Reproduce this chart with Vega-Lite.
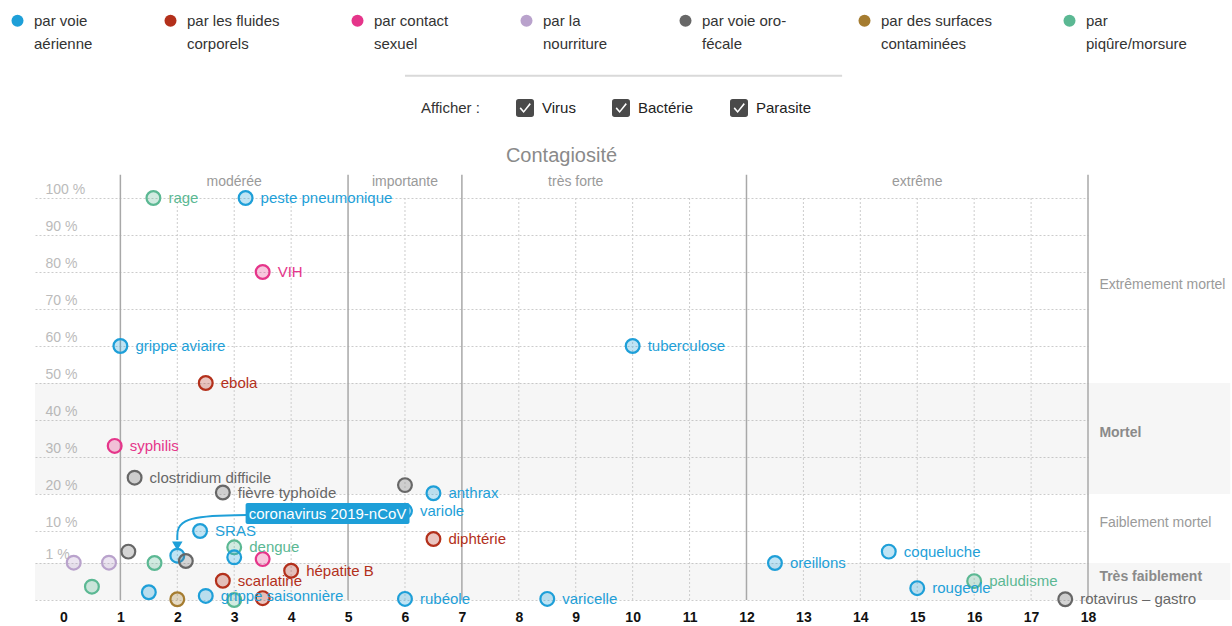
{
  "$schema": "https://vega.github.io/schema/vega-lite/v6.json",
  "width": 1053,
  "height": 432,
  "autosize": {"type": "none"},
  "padding": {"left": 35, "top": 168, "right": 144, "bottom": 26},
  "background": "white",
  "title": {"text": "Contagiosité", "anchor": "middle", "fontSize": 20, "fontWeight": "normal", "color": "#8a8a8a", "offset": 3, "dy": 156, "font": "Liberation Sans"},
  "config": {
    "font": "Liberation Sans",
    "view": {"stroke": null},
    "style": {"guide-label": {"lineHeight": 23}},
    "axis": {"domain": false, "ticks": false, "title": null},
    "axisY": {"labelOverlap": false, "labelFlush": false, "labelBound": false, "labelAlign": "left", "labelPadding": -10, "tickSize": 0, "tickCount": 30, "labelOffset": -9, "labelColor": "#bbbbbb", "labelFontSize": 14, "grid": true, "gridDash": [2, 2], "gridColor": "#cccccc"},
    "axisX": {"labelOverlap": false, "labelFlush": false, "grid": false, "tickCount": 30, "labelFontWeight": "bold", "labelFontSize": 14, "labelColor": "#111111", "labelPadding": 10, "format": "d"}
  },
  "datasets": {
    "maladies": [
      {"etiquette": "rage", "contagiosite": 1.58, "mortalite": 100, "transmission": "par piqûre/morsure", "type": "Virus"},
      {"etiquette": "peste pneumonique", "contagiosite": 3.2, "mortalite": 100, "transmission": "par voie aérienne", "type": "Bactérie"},
      {"etiquette": "VIH", "contagiosite": 3.5, "mortalite": 80, "transmission": "par contact sexuel", "type": "Virus"},
      {"etiquette": "grippe aviaire", "contagiosite": 1.0, "mortalite": 60, "transmission": "par voie aérienne", "type": "Virus"},
      {"etiquette": "tuberculose", "contagiosite": 10.0, "mortalite": 60, "transmission": "par voie aérienne", "type": "Bactérie"},
      {"etiquette": "ebola", "contagiosite": 2.5, "mortalite": 50, "transmission": "par les fluides corporels", "type": "Virus"},
      {"etiquette": "syphilis", "contagiosite": 0.9, "mortalite": 33, "transmission": "par contact sexuel", "type": "Bactérie"},
      {"etiquette": "clostridium difficile", "contagiosite": 1.25, "mortalite": 24.4, "transmission": "par voie oro-fécale", "type": "Bactérie"},
      {"etiquette": "fièvre typhoïde", "contagiosite": 2.8, "mortalite": 20.4, "transmission": "par voie oro-fécale", "type": "Bactérie"},
      {"etiquette": "", "contagiosite": 6.0, "mortalite": 22.4, "transmission": "par voie oro-fécale", "type": "Bactérie"},
      {"etiquette": "anthrax", "contagiosite": 6.5, "mortalite": 20.2, "transmission": "par voie aérienne", "type": "Bactérie"},
      {"etiquette": "variole", "contagiosite": 6.0, "mortalite": 15.4, "transmission": "par voie aérienne", "type": "Virus"},
      {"etiquette": "diphtérie", "contagiosite": 6.5, "mortalite": 7.75, "transmission": "par les fluides corporels", "type": "Bactérie"},
      {"etiquette": "SRAS", "contagiosite": 2.4, "mortalite": 10, "transmission": "par voie aérienne", "type": "Virus"},
      {"etiquette": "dengue", "contagiosite": 3.0, "mortalite": 5.4, "transmission": "par piqûre/morsure", "type": "Virus"},
      {"etiquette": "", "contagiosite": 3.0, "mortalite": 2.6, "transmission": "par voie aérienne", "type": "Virus"},
      {"etiquette": "", "contagiosite": 3.5, "mortalite": 2.1, "transmission": "par contact sexuel", "type": "Virus"},
      {"etiquette": "", "contagiosite": 1.14, "mortalite": 4.2, "transmission": "par voie oro-fécale", "type": "Bactérie"},
      {"etiquette": "", "contagiosite": 0.18, "mortalite": 1.08, "transmission": "par la nourriture", "type": "Bactérie"},
      {"etiquette": "", "contagiosite": 0.8, "mortalite": 1.08, "transmission": "par la nourriture", "type": "Bactérie"},
      {"etiquette": "", "contagiosite": 1.6, "mortalite": 1.0, "transmission": "par piqûre/morsure", "type": "Virus"},
      {"etiquette": "", "contagiosite": 0.5, "mortalite": 0.36, "transmission": "par piqûre/morsure", "type": "Parasite"},
      {"etiquette": "", "contagiosite": 1.5, "mortalite": 0.21, "transmission": "par voie aérienne", "type": "Bactérie"},
      {"etiquette": "", "contagiosite": 2.0, "mortalite": 0.02, "transmission": "par des surfaces contaminées", "type": "Bactérie"},
      {"etiquette": "coronavirus 2019-nCoV", "contagiosite": 2.0, "mortalite": 3.05, "transmission": "par voie aérienne", "type": "Virus"},
      {"etiquette": "", "contagiosite": 2.15, "mortalite": 1.56, "transmission": "par voie oro-fécale", "type": "Virus"},
      {"etiquette": "grippe saisonnière", "contagiosite": 2.5, "mortalite": 0.11, "transmission": "par voie aérienne", "type": "Virus"},
      {"etiquette": "", "contagiosite": 3.0, "mortalite": 0, "transmission": "par piqûre/morsure", "type": "Virus"},
      {"etiquette": "", "contagiosite": 3.5, "mortalite": 0.05, "transmission": "par les fluides corporels", "type": "Virus"},
      {"etiquette": "scarlatine", "contagiosite": 2.8, "mortalite": 0.52, "transmission": "par les fluides corporels", "type": "Bactérie"},
      {"etiquette": "hépatite B", "contagiosite": 4.0, "mortalite": 0.79, "transmission": "par les fluides corporels", "type": "Virus"},
      {"etiquette": "rubéole", "contagiosite": 6.0, "mortalite": 0.03, "transmission": "par voie aérienne", "type": "Virus"},
      {"etiquette": "varicelle", "contagiosite": 8.5, "mortalite": 0.03, "transmission": "par voie aérienne", "type": "Virus"},
      {"etiquette": "oreillons", "contagiosite": 12.5, "mortalite": 1.0, "transmission": "par voie aérienne", "type": "Virus"},
      {"etiquette": "coqueluche", "contagiosite": 14.5, "mortalite": 4.2, "transmission": "par voie aérienne", "type": "Bactérie"},
      {"etiquette": "rougeole", "contagiosite": 15.0, "mortalite": 0.32, "transmission": "par voie aérienne", "type": "Virus"},
      {"etiquette": "paludisme", "contagiosite": 16.0, "mortalite": 0.51, "transmission": "par piqûre/morsure", "type": "Parasite"},
      {"etiquette": "rotavirus – gastro", "contagiosite": 17.6, "mortalite": 0.02, "transmission": "par voie oro-fécale", "type": "Virus"}
    ],
    "bandes": [
      {"zone": "Mortel", "bas": 20, "haut": 50},
      {"zone": "Très faiblement", "bas": 0, "haut": 1}
    ],
    "zones": [
      {"texte": "Extrêmement mortel", "niveau": 76.5, "gras": false},
      {"texte": "Mortel", "niveau": 36.5, "gras": true},
      {"texte": "Faiblement mortel", "niveau": 12.2, "gras": false},
      {"texte": "Très faiblement", "niveau": 0.62, "gras": true}
    ],
    "categories": [
      {"categorie": "modérée", "centre": 3},
      {"categorie": "importante", "centre": 6},
      {"categorie": "très forte", "centre": 9},
      {"categorie": "extrême", "centre": 15}
    ],
    "limites": [{"r": 1}, {"r": 5}, {"r": 7}, {"r": 12}, {"r": 18}],
    "grille": [{"r": 2}, {"r": 3}, {"r": 4}, {"r": 6}, {"r": 8}, {"r": 9}, {"r": 10}, {"r": 11}, {"r": 13}, {"r": 14}, {"r": 15}, {"r": 16}, {"r": 17}],
    "fleche": [
      {"ordre": 1, "cx": 3.22, "cy": 14.3},
      {"ordre": 2, "cx": 2.0, "cy": 14.05},
      {"ordre": 3, "cx": 2.0, "cy": 7.5}
    ]
  },
  "layer": [
    {
      "data": {"name": "bandes"},
      "mark": {"type": "rect", "fill": "#9a9a9a", "fillOpacity": 0.09},
      "encoding": {
        "x": {"datum": -0.5, "type": "quantitative", "scale": {"domain": [-0.5, 18], "nice": false, "zero": false},
          "axis": {"values": [0,1,2,3,4,5,6,7,8,9,10,11,12,13,14,15,16,17,18], "title": null}},
        "x2": {"datum": 20.5},
        "y": {"field": "bas", "type": "quantitative", "scale": {"domain": [0, 1, 10, 100, 108.1], "range": [432, 395, 363, 30, 0], "nice": false, "zero": false},
          "axis": {"values": [0,1,10,20,30,40,50,60,70,80,90,100], "tickCount": 30, "labelFontSize": 14, "labelColor": "#bbbbbb", "labelExpr": "datum.value == 0 ? '' : datum.value + ' %'", "title": null}},
        "y2": {"field": "haut"}
      }
    },
    {
      "data": {"name": "grille"},
      "mark": {"type": "rule", "stroke": "#cccccc", "strokeDash": [2, 2], "strokeWidth": 1},
      "encoding": {
        "x": {"field": "r", "type": "quantitative", "title": null},
        "y": {"datum": 100},
        "y2": {"datum": 0}
      }
    },
    {
      "data": {"name": "limites"},
      "mark": {"type": "rule", "stroke": "#a8a8a8", "strokeWidth": 1.5},
      "encoding": {
        "x": {"field": "r", "type": "quantitative", "title": null},
        "y": {"datum": 106.3},
        "y2": {"datum": 0}
      }
    },
    {
      "data": {"values": [{}]},
      "mark": {"type": "rule", "stroke": "#d9d9d9", "strokeWidth": 2},
      "encoding": {
        "x": {"datum": 6.0},
        "x2": {"datum": 13.68},
        "y": {"datum": 133}
      }
    },
    {
      "data": {"name": "categories"},
      "mark": {"type": "text", "fontSize": 14, "color": "#9a9a9a", "align": "center", "baseline": "middle"},
      "encoding": {
        "x": {"field": "centre", "type": "quantitative", "title": null},
        "y": {"datum": 104.4},
        "text": {"field": "categorie"}
      }
    },
    {
      "data": {"name": "zones"},
      "transform": [{"filter": "!datum.gras"}],
      "mark": {"type": "text", "fontSize": 14, "color": "#9a9a9a", "align": "left", "baseline": "middle"},
      "encoding": {
        "x": {"datum": 18.2},
        "y": {"field": "niveau", "type": "quantitative", "title": null},
        "text": {"field": "texte"}
      }
    },
    {
      "data": {"name": "zones"},
      "transform": [{"filter": "datum.gras"}],
      "mark": {"type": "text", "fontSize": 14, "fontWeight": "bold", "color": "#8a8a8a", "align": "left", "baseline": "middle"},
      "encoding": {
        "x": {"datum": 18.2},
        "y": {"field": "niveau", "type": "quantitative", "title": null},
        "text": {"field": "texte"}
      }
    },
    {
      "data": {"name": "maladies"},
      "mark": {"type": "point", "filled": true, "fillOpacity": 0.28, "strokeOpacity": 1, "strokeWidth": 2.2, "size": 190},
      "encoding": {
        "x": {"field": "contagiosite", "type": "quantitative", "title": null},
        "y": {"field": "mortalite", "type": "quantitative", "title": null},
        "fill": {"field": "transmission", "type": "nominal", "legend": null,
          "scale": {"domain": ["par piqûre/morsure", "par des surfaces contaminées", "par voie oro-fécale", "par la nourriture", "par contact sexuel", "par les fluides corporels", "par voie aérienne"],
                    "range": ["#5bb893", "#a57c30", "#676767", "#b9a2cc", "#e5358a", "#b3301b", "#1e9fd8"]}},
        "stroke": {"field": "transmission", "type": "nominal", "legend": null,
          "scale": {"domain": ["par piqûre/morsure", "par des surfaces contaminées", "par voie oro-fécale", "par la nourriture", "par contact sexuel", "par les fluides corporels", "par voie aérienne"],
                    "range": ["#5bb893", "#a57c30", "#676767", "#b9a2cc", "#e5358a", "#b3301b", "#1e9fd8"]}}
      }
    },
    {
      "data": {"name": "maladies"},
      "mark": {"type": "point", "filled": true, "opacity": 0},
      "encoding": {
        "x": {"field": "contagiosite", "type": "quantitative", "title": null},
        "y": {"field": "mortalite", "type": "quantitative", "title": null},
        "color": {"field": "transmission", "type": "nominal",
          "scale": {"domain": ["par voie aérienne", "par les fluides corporels", "par contact sexuel", "par la nourriture", "par voie oro-fécale", "par des surfaces contaminées", "par piqûre/morsure"],
                    "range": ["#1e9fd8", "#b3301b", "#e5358a", "#b9a2cc", "#676767", "#a57c30", "#5bb893"]},
          "legend": {"orient": "none", "legendX": -25, "legendY": -155, "direction": "horizontal", "columns": 7, "title": null, "padding": 0,
            "labelFontSize": 15, "labelColor": "#333333", "labelLimit": 300, "labelOffset": 9, "columnPadding": 70,
            "symbolType": "circle", "symbolSize": 144, "symbolOpacity": 1, "symbolStrokeWidth": 0,
            "labelExpr": "split(datum.label == 'par voie aérienne' ? 'par voie|aérienne' : datum.label == 'par les fluides corporels' ? 'par les fluides|corporels' : datum.label == 'par contact sexuel' ? 'par contact|sexuel' : datum.label == 'par la nourriture' ? 'par la|nourriture' : datum.label == 'par voie oro-fécale' ? 'par voie oro-|fécale' : datum.label == 'par des surfaces contaminées' ? 'par des surfaces|contaminées' : 'par|piqûre/morsure', '|')"}},
        "shape": {"field": "type", "type": "nominal",
          "scale": {"domain": ["Virus", "Bactérie", "Parasite"],
                    "range": ["M -0.7 -1 L 0.7 -1 Q 1 -1 1 -0.7 L 1 0.7 Q 1 1 0.7 1 L -0.7 1 Q -1 1 -1 0.7 L -1 -0.7 Q -1 -1 -0.7 -1 Z M -0.6 0.05 L -0.15 0.55 L 0.65 -0.42 L 0.52 -0.55 L -0.15 0.3 L -0.47 -0.08 Z",
                              "M -0.7 -1 L 0.7 -1 Q 1 -1 1 -0.7 L 1 0.7 Q 1 1 0.7 1 L -0.7 1 Q -1 1 -1 0.7 L -1 -0.7 Q -1 -1 -0.7 -1 Z M -0.6 0.05 L -0.15 0.55 L 0.65 -0.42 L 0.52 -0.55 L -0.15 0.3 L -0.47 -0.08 Z",
                              "M -0.7 -1 L 0.7 -1 Q 1 -1 1 -0.7 L 1 0.7 Q 1 1 0.7 1 L -0.7 1 Q -1 1 -1 0.7 L -1 -0.7 Q -1 -1 -0.7 -1 Z M -0.6 0.05 L -0.15 0.55 L 0.65 -0.42 L 0.52 -0.55 L -0.15 0.3 L -0.47 -0.08 Z"]},
          "legend": {"orient": "none", "legendX": 386, "legendY": -69, "direction": "horizontal", "columns": 3, "padding": 0,
            "title": "Afficher :", "titleOrient": "left", "titleFontSize": 15, "titleFontWeight": "normal", "titleColor": "#333333", "titlePadding": 36,
            "labelFontSize": 15, "labelColor": "#222222", "labelOffset": 8, "columnPadding": 36,
            "symbolSize": 324, "symbolFillColor": "#4a4a4a", "symbolStrokeWidth": 0, "symbolOpacity": 1}}
      }
    },
    {
      "data": {"name": "maladies"},
      "transform": [{"filter": "datum.etiquette != 'coronavirus 2019-nCoV'"}],
      "mark": {"type": "text", "align": "left", "baseline": "middle", "dx": 15, "fontSize": 15},
      "encoding": {
        "x": {"field": "contagiosite", "type": "quantitative", "title": null},
        "y": {"field": "mortalite", "type": "quantitative", "title": null},
        "text": {"field": "etiquette"},
        "fill": {"field": "transmission", "type": "nominal", "legend": null}
      }
    },
    {
      "data": {"name": "fleche"},
      "mark": {"type": "line", "interpolate": "basis", "stroke": "#1e9fd8", "strokeWidth": 2},
      "encoding": {
        "x": {"field": "cx", "type": "quantitative", "title": null},
        "y": {"field": "cy", "type": "quantitative", "title": null},
        "order": {"field": "ordre"}
      }
    },
    {
      "data": {"values": [{}]},
      "mark": {"type": "point", "shape": "triangle-down", "filled": true, "color": "#1e9fd8", "opacity": 1, "size": 110},
      "encoding": {
        "x": {"datum": 2.0},
        "y": {"datum": 5.8}
      }
    },
    {
      "data": {"values": [{}]},
      "mark": {"type": "rect", "fill": "#1e9fd8", "cornerRadius": 2},
      "encoding": {
        "x": {"datum": 3.2},
        "x2": {"datum": 6.08},
        "y": {"datum": 11.9},
        "y2": {"datum": 17.6}
      }
    },
    {
      "data": {"name": "maladies"},
      "transform": [{"filter": "datum.etiquette == 'coronavirus 2019-nCoV'"}],
      "mark": {"type": "text", "align": "center", "baseline": "middle", "fontSize": 15, "color": "white"},
      "encoding": {
        "x": {"datum": 4.64},
        "y": {"datum": 14.6},
        "text": {"field": "etiquette"}
      }
    }
  ]
}
